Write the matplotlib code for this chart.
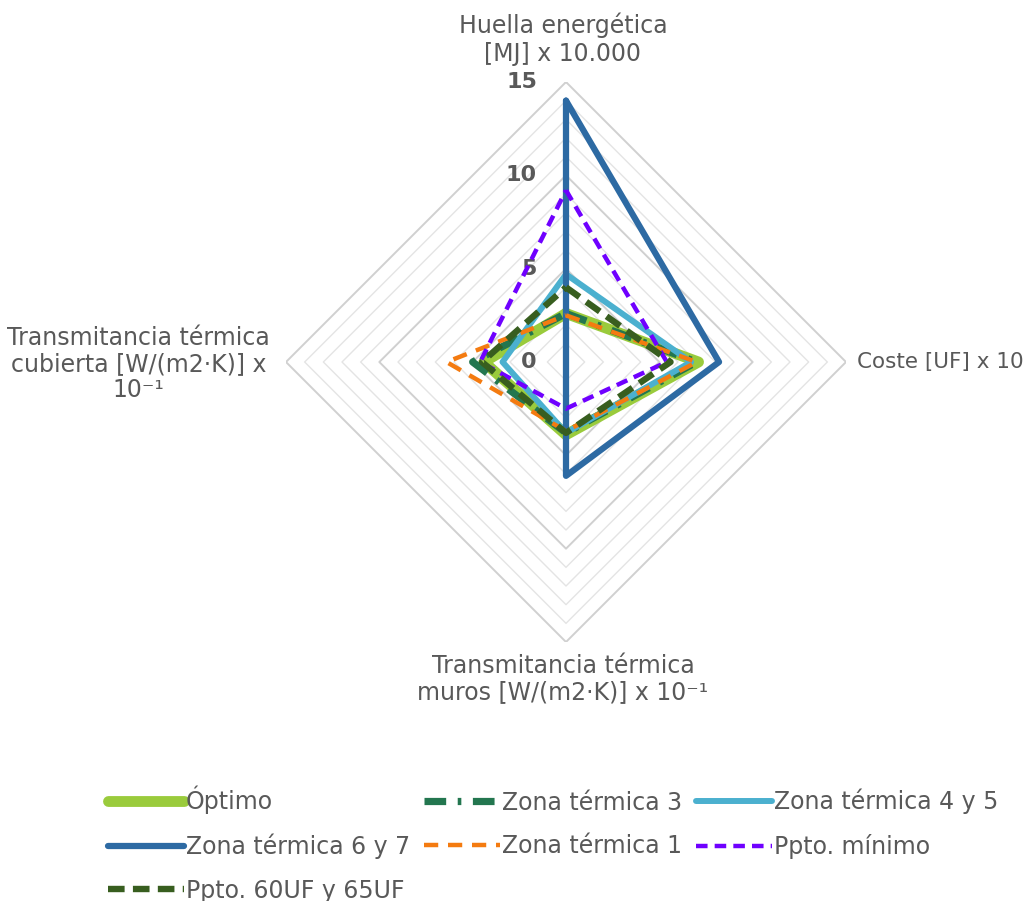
import numpy as np
import matplotlib
matplotlib.use("Agg")
import matplotlib.pyplot as plt

# Ejes del radar (arriba, derecha, abajo, izquierda)
ejes = [
    "Huella energética\n[MJ] x 10.000",
    "Coste [UF] x 10",
    "Transmitancia térmica\nmuros [W/(m2·K)] x 10⁻¹",
    "Transmitancia térmica\ncubierta [W/(m2·K)] x\n10⁻¹",
]

series = [
    "Óptimo",
    "Zona térmica 3",
    "Zona térmica 4 y 5",
    "Zona térmica 6 y 7",
    "Zona térmica 1",
    "Ppto. mínimo",
    "Ppto. 60UF y 65UF",
]

optimo = [2.6, 7.1, 3.9, 4.4]
zona_3 = [2.6, 7.0, 3.8, 5.0]
zona_4_5 = [4.7, 6.7, 3.8, 3.4]
zona_6_7 = [14.0, 8.2, 6.1, 0.0]
zona_1 = [2.5, 7.0, 3.7, 6.4]
ppto_minimo = [9.2, 5.4, 2.5, 4.6]
ppto_60_65 = [4.0, 5.6, 3.8, 4.5]

valores = [optimo, zona_3, zona_4_5, zona_6_7, zona_1, ppto_minimo, ppto_60_65]

ticks_radiales = [0, 5, 10, 15]
r_max = 15

# estilos de cada serie
colores = ["#9ACB3C", "#23764F", "#4BB0CF", "#2D6AA3", "#F47B10", "#6F00FF", "#385E1F"]
anchos = [7.8, 5.2, 4.3, 4.5, 3.2, 3.2, 4.6]
guiones = [None, (3, 1.6, 0.5, 1.6), None, None, (3.2, 2.2), (2.6, 1.6), (2.6, 1.3)]

gris_texto = "#595959"
plt.rcParams["font.family"] = ["DejaVu Sans"]

fig = plt.figure(figsize=(10.29, 9.01), dpi=100)
W, H = 1029, 901
cx, cy, rad = 566, 362, 280
ax = fig.add_axes([(cx - rad) / W, (H - cy - rad) / H, 2 * rad / W, 2 * rad / H], polar=True)
ax.set_theta_zero_location("N")
ax.set_theta_direction(-1)
ax.set_ylim(0, r_max)
ax.grid(False)
ax.set_xticks([])
ax.set_yticks([])
ax.spines["polar"].set_visible(False)

angulos = np.deg2rad([0, 90, 180, 270])
ang_cerrado = np.append(angulos, angulos[0])

# rejilla en rombo
for r in range(1, r_max + 1):
    if r % 5 == 0:
        ax.plot(ang_cerrado, [r] * 5, color="#D0D0D0", lw=1.4, zorder=1)
    else:
        ax.plot(ang_cerrado, [r] * 5, color="#E4E4E4", lw=1.0, zorder=1)

# etiquetas radiales
for t in ticks_radiales:
    ax.annotate(str(t), xy=(0, t), xytext=(-29, 0), textcoords="offset pixels",
                ha="right", va="center", fontsize=16, fontweight="bold",
                color=gris_texto, zorder=2)

# series
for i, nombre in enumerate(series):
    v = valores[i] + [valores[i][0]]
    linea, = ax.plot(ang_cerrado, v, color=colores[i], lw=anchos[i], label=nombre,
                     zorder=3 + i, solid_joinstyle="round", solid_capstyle="round")
    if guiones[i] is not None:
        linea.set_dashes(guiones[i])
        linea.set_dash_capstyle("butt")

# etiquetas de ejes
ax.annotate(ejes[0], xy=(angulos[0], r_max), xytext=(-3, 16), textcoords="offset pixels",
            ha="center", va="bottom", fontsize=17, color=gris_texto,
            multialignment="center", linespacing=1.2, annotation_clip=False)
ax.annotate(ejes[1], xy=(angulos[1], r_max), xytext=(11, 0), textcoords="offset pixels",
            ha="left", va="center", fontsize=15.5, color=gris_texto, annotation_clip=False)
ax.annotate(ejes[2], xy=(angulos[2], r_max), xytext=(-3, -12), textcoords="offset pixels",
            ha="center", va="top", fontsize=17, color=gris_texto,
            multialignment="center", linespacing=1.1, annotation_clip=False)
ax.annotate(ejes[3], xy=(angulos[3], r_max), xytext=(-16, -2), textcoords="offset pixels",
            ha="right", va="center", fontsize=17, color=gris_texto,
            multialignment="center", linespacing=1.12, annotation_clip=False)

# leyenda, ordenada por filas
handles, labels = ax.get_legend_handles_labels()
orden = [0, 3, 6, 1, 4, 2, 5]
leg = fig.legend([handles[k] for k in orden], [labels[k] for k in orden],
                 loc="upper left", bbox_to_anchor=(108 / W, 1 - 786 / H),
                 ncol=3, frameon=False, fontsize=17, handlelength=3.2, handletextpad=0.1,
                 columnspacing=0.6, labelspacing=0.82, borderaxespad=0, borderpad=0)
for txt in leg.get_texts():
    txt.set_color(gris_texto)

fig.savefig("out.png", dpi=100)
